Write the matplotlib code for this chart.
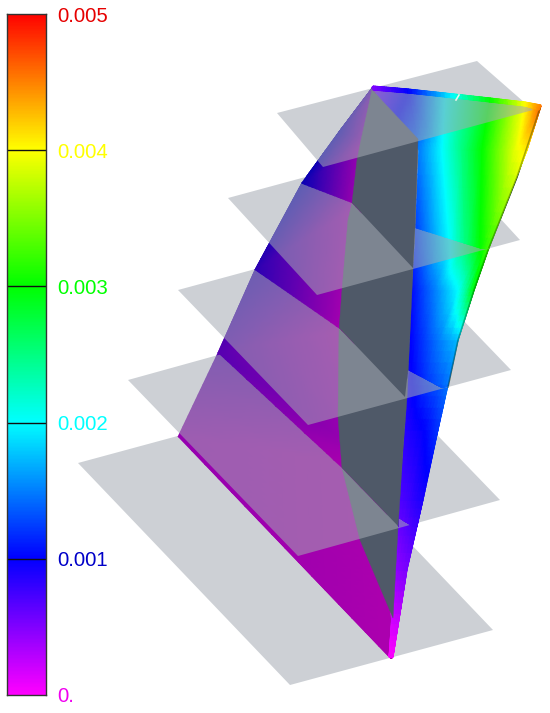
import numpy as np
import matplotlib
matplotlib.use("Agg")
import matplotlib.pyplot as plt
from matplotlib.colors import LinearSegmentedColormap, Normalize
from matplotlib.path import Path
from matplotlib.patches import Polygon
from matplotlib.tri import Triangulation, UniformTriRefiner, LinearTriInterpolator

plt.rcParams['font.family'] = ['Liberation Sans', 'DejaVu Sans']

# ---- colour scale
TICKS = [0.0, 0.001, 0.002, 0.003, 0.004, 0.005]
TICK_LABELS = ['0.', '0.001', '0.002', '0.003', '0.004', '0.005']
SCALE_COLORS = ['#ff00ff', '#0000ff', '#00ffff', '#00ff00', '#ffff00', '#ff0000']
SHADED_COLORS = ['#ae00ae', '#0000b4', '#00b4b4', '#00b400', '#b4b400', '#b40000']

# ---- section planes (left, front, right, back corners), bottom to top
PLANES = [
    [(78, 463), (290, 685), (493, 630), (281, 408)],
    [(128, 380), (298, 556), (500, 500), (330, 324)],
    [(178, 290), (308, 425), (511, 370), (381, 235)],
    [(228, 198), (317, 295), (520, 240), (431, 143)],
    [(277, 113), (323, 167), (533, 110), (477, 61)],
]
PLANE_COLOR = (0.645, 0.665, 0.70)
PLANE_ALPHA = 0.55

# ---- where the wing meets each plane
SECTIONS = [
    [(178, 437), (390, 659)],
    [(218, 353), (342, 468), (399, 527), (399, 518), (412, 526), (418, 527)],
    [(255, 270), (340, 329), (405, 397), (408, 370), (442, 388), (450, 386)],
    [(300, 183), (352, 203), (413, 268), (415, 228), (482, 249), (490, 248)],
]

# ---- right surface: rows run root to tip
RIGHT_X = [
    [389, 390, 390.5, 391, 392, 393],
    [395, 397, 399, 402, 404, 407],
    [400, 404, 408, 412, 417, 423],
    [405, 411, 418, 424, 431, 438],
    [410, 425, 440, 450, 455, 458],
    [412, 435, 458, 466, 471, 474],
    [415, 450, 465, 480, 485, 488],
    [419, 442, 462, 482, 515, 527],
    [372, 408, 445, 490, 525, 541],
]
RIGHT_Y = [
    [657, 657, 657, 657, 657, 657],
    [570, 570, 570, 570, 570, 570],
    [500, 500, 500, 500, 500, 500],
    [430, 430, 430, 430, 430, 430],
    [340, 340, 340, 340, 340, 340],
    [290, 290, 290, 290, 290, 290],
    [250, 250, 250, 250, 250, 250],
    [150, 150, 150, 150, 150, 150],
    [87, 91, 95, 100, 104, 106],
]
RIGHT_V = [
    [0.0, 0.0, 0.0, 0.0, 0.0, 0.0],
    [0.00042, 0.00044, 0.00046, 0.00048, 0.0005, 0.00052],
    [0.0007, 0.00072, 0.00075, 0.0008, 0.00085, 0.0009],
    [0.00085, 0.0009, 0.00095, 0.001, 0.0011, 0.0012],
    [0.001, 0.00125, 0.0015, 0.00165, 0.0017, 0.00175],
    [0.00105, 0.0015, 0.002, 0.0024, 0.0028, 0.00295],
    [0.0012, 0.002, 0.0025, 0.003, 0.00315, 0.00325],
    [0.0015, 0.002, 0.0025, 0.003, 0.0039, 0.0041],
    [0.0005, 0.001, 0.002, 0.003, 0.004, 0.0046],
]

# ---- left surface: leading edge to the core
LEFT_X = [[178, 392], [218, 385], [255, 350], [302, 362], [339, 370], [373, 376]]
LEFT_Y = [[437, 660], [353, 468], [270, 329], [183, 203], [132, 140], [87, 89]]
LEFT_V = [[0.00015, 0.00002], [0.0005, 0.00002], [0.00075, 0.0], [0.00095, 0.0],
          [0.0009, 0.0], [0.0006, 0.0003]]

# ---- dark core
CORE = [(372, 90), (361, 140), (357, 160), (352, 203), (348, 220), (342, 290),
        (339, 330), (338, 417), (342, 468), (360, 540), (393, 618), (398, 528),
        (403, 450), (407, 398), (413, 268), (415, 228), (418, 139)]
CORE_COLOR = '#4f5968'

# ---- thin strip on the upper end
STRIP_X = [[373, 408, 445, 490, 525, 541], [373, 408, 445, 490, 525, 539]]
STRIP_Y = [[86, 89, 93, 98, 102, 105], [90, 93, 97, 102, 106, 110]]
STRIP_V = [[0.0005, 0.001, 0.0018, 0.003, 0.004, 0.0045],
           [0.0005, 0.001, 0.0018, 0.003, 0.004, 0.0045]]
NOTCH = [(459, 95), (456, 100)]

# ---- trailing edge
EDGE_X = [540, 517, 488, 474, 458, 448]
EDGE_Y = [108, 177, 250, 290, 340, 387]

cmap = LinearSegmentedColormap.from_list(
    'scale', list(zip(np.array(TICKS) / 0.005, SCALE_COLORS)), N=512)
cmap_dim = LinearSegmentedColormap.from_list(
    'dim', list(zip(np.array(TICKS) / 0.005, SHADED_COLORS)), N=512)
norm = Normalize(0, 0.005)

W, H = 550, 713
fig = plt.figure(figsize=(W / 100, H / 100), dpi=100)
ax = fig.add_axes([0, 0, 1, 1])
ax.set_xlim(0, W)
ax.set_ylim(H, 0)
ax.axis('off')


def grid_mesh(xs, ys, vs, subdiv=4):
    x = np.array(xs, float)
    y = np.array(ys, float)
    v = np.array(vs, float)
    nr, nc = x.shape
    tris = []
    for r in range(nr - 1):
        for c in range(nc - 1):
            a = r * nc + c
            b, d, e = a + 1, a + nc, a + nc + 1
            tris += [[a, b, e], [a, e, d]]
    tri = Triangulation(x.ravel(), y.ravel(), np.array(tris))
    refiner = UniformTriRefiner(tri)
    rtri, rv = refiner.refine_field(
        v.ravel(), triinterpolator=LinearTriInterpolator(tri, v.ravel()), subdiv=subdiv)
    return rtri, rv


right_mesh = grid_mesh(RIGHT_X, RIGHT_Y, RIGHT_V)
left_mesh = grid_mesh(LEFT_X, LEFT_Y, LEFT_V)
strip_mesh = grid_mesh(STRIP_X, STRIP_Y, STRIP_V)


def clip_above(section):
    pts = [(-20, section[0][1])] + list(section) + [(W + 20, section[-1][1]),
                                                   (W + 20, -20), (-20, -20), (-20, section[0][1])]
    return Path(pts, closed=True)


def draw_wing(section, z):
    clip = clip_above(section)
    b = ax.tripcolor(left_mesh[0], left_mesh[1], shading='gouraud', cmap=cmap_dim, norm=norm, zorder=z)
    a = ax.tripcolor(right_mesh[0], right_mesh[1], shading='gouraud', cmap=cmap, norm=norm, zorder=z + 0.1)
    c = Polygon(CORE, closed=True, fc=CORE_COLOR, ec=CORE_COLOR, lw=0.3, zorder=z + 0.2)
    ax.add_patch(c)
    d, = ax.plot(EDGE_X, EDGE_Y, color=(0, 0.15, 0, 0.35), lw=1.1, zorder=z + 0.3)
    for art in (a, b, c, d):
        art.set_clip_path(clip, ax.transData)


for i, plane in enumerate(PLANES):
    z = i * 2
    ax.add_patch(Polygon(plane, closed=True, fc=PLANE_COLOR, ec='none', alpha=PLANE_ALPHA, zorder=z))
    if i < len(SECTIONS):
        draw_wing(SECTIONS[i], z + 1)

ax.tripcolor(strip_mesh[0], strip_mesh[1], shading='gouraud', cmap=cmap, norm=norm, zorder=20)
ax.plot(*zip(*NOTCH), color='#e8f4ee', lw=1.2, zorder=21)

# ---- colour bar
cax = fig.add_axes([7 / W, 1 - 695 / H, 39 / W, 681 / H])
levels = np.linspace(0, 0.005, 512)
cax.pcolormesh([0, 1], levels, levels[:-1, None], cmap=cmap, norm=norm, shading='flat')
cax.set_xticks([])
cax.set_ylim(0, 0.005)
cax.set_yticks(TICKS)
cax.set_yticklabels(TICK_LABELS)
cax.yaxis.tick_right()
cax.tick_params(axis='y', length=0, pad=8, labelsize=14.7)
for lab, col in zip(cax.get_yticklabels(), SCALE_COLORS):
    lab.set_color(col)
cax.get_yticklabels()[1].set_color('#0000c8')
cax.get_yticklabels()[5].set_color('#e60000')
cax.get_yticklabels()[0].set_color('#f000f0')
for t in TICKS[1:-1]:
    cax.axhline(t, color='#111111', lw=1.0)
for s in cax.spines.values():
    s.set_color('#333333')
    s.set_linewidth(1.0)

fig.savefig('out.png', dpi=100)
